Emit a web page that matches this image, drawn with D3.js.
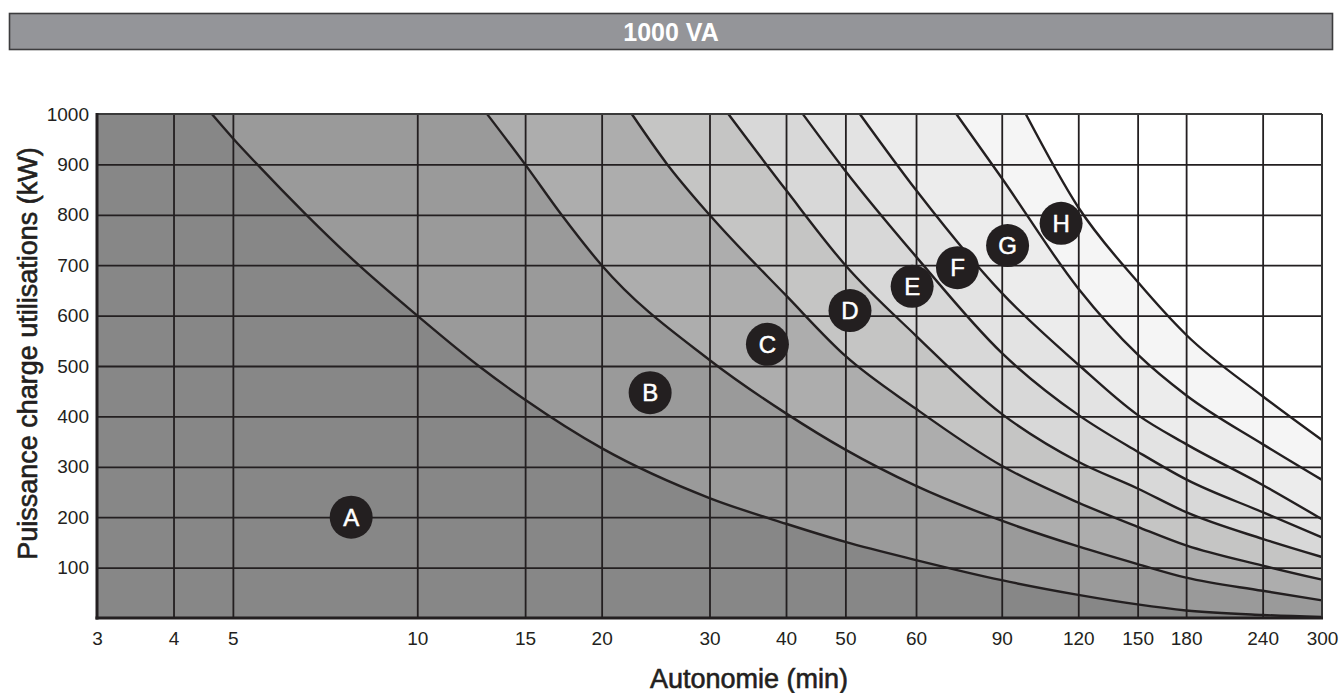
<!DOCTYPE html>
<html>
<head>
<meta charset="utf-8">
<script src="https://cdn.jsdelivr.net/npm/d3@7"></script>
<style>
  html, body { margin: 0; padding: 0; background: #ffffff; }
  svg { display: block; font-family: "Liberation Sans", Arial, Helvetica, sans-serif; }
</style>
</head>
<body>
<svg id="chart" width="1340" height="693"></svg>
<script>
// ---------- DATA ----------
const chartTitle = "1000 VA";
const xTitle = "Autonomie (min)";
const yTitle = "Puissance charge utilisations (kW)";

const xTicks = [3, 4, 5, 10, 15, 20, 30, 40, 50, 60, 90, 120, 150, 180, 240, 300];
const yTicks = [100, 200, 300, 400, 500, 600, 700, 800, 900, 1000];

// boundary curves (minutes, kW) — curve k separates zone k from zone k+1
const t1 = [4.62, 5, 5.48, 6.59, 8.03, 10, 12.6, 15, 20, 30, 40, 50, 60, 90, 120, 150, 180, 240, 300];
const p1 = [1000, 952, 900, 800, 700, 600, 500, 433, 337, 238, 187, 151, 115, 75, 46, 27, 15, 6, 2];
const t2 = [13.0, 15, 17.2, 20, 30, 40, 50, 60, 90, 120, 150, 180, 240, 300];
const p2 = [1000, 900, 800, 700, 512, 406, 334, 262, 193, 142, 107, 80, 54, 35];
const t3 = [22.4, 25.6, 30, 40, 50, 60, 90, 120, 150, 180, 240, 300];
const p3 = [1000, 900, 800, 640, 520, 415, 302, 229, 181, 144, 104, 76];
const t4 = [32.2, 40, 50, 60, 90, 120, 150, 180, 240, 300];
const p4 = [1000, 849, 700, 560, 405, 310, 257, 210, 157, 121];
const t5 = [42.6, 50, 60, 90, 120, 150, 180, 240, 300];
const p5 = [1000, 887, 717, 526, 403, 330, 275, 210, 160];
const t6 = [51.9, 60, 90, 120, 150, 180, 240, 300];
const p6 = [1000, 849, 645, 503, 403, 345, 264, 196];
const t7 = [72.6, 90, 120, 150, 180, 240, 300];
const p7 = [1000, 873, 654, 523, 442, 345, 274];
const t8 = [98.5, 120, 150, 180, 240, 300];
const p8 = [1000, 815, 667, 562, 440, 353];

const zoneNames = ["A", "B", "C", "D", "E", "F", "G", "H"];
const zoneColors = ["#878787", "#9a9a9a", "#adadad", "#c5c5c4", "#d8d8d8", "#e3e3e3", "#ececec", "#f5f5f5"];
const labelT = [7.8, 24, 37.3, 50.6, 59.4, 73, 92, 112.5];
const labelP = [200, 447, 543, 610, 658, 695, 739, 783];

const curveT = [t1, t2, t3, t4, t5, t6, t7, t8];
const curveP = [p1, p2, p3, p4, p5, p6, p7, p8];

// ---------- LAYOUT ----------
const svg = d3.select("#chart");
const M = { left: 97, top: 114 };
const W = 1225, H = 504;
const ink = "#231f20";

const lf = t => Math.log(t / 3) / Math.log(100);
const x = d3.scaleLog()
  .domain([3, 50, 60, 90, 300])
  .range([0, lf(50) * W, 0.6686 * W, lf(90) * W, W]);
const y = d3.scaleLinear().domain([0, 1000]).range([H, 0]);

// title bar
svg.append("rect")
  .attr("x", 9.5).attr("y", 13.5).attr("width", 1323).attr("height", 36)
  .attr("fill", "#949599").attr("stroke", "#3c3c3e").attr("stroke-width", 1.6);
svg.append("text")
  .attr("x", 671).attr("y", 41)
  .attr("text-anchor", "middle")
  .attr("font-size", 25).attr("font-weight", "bold")
  .attr("fill", "#ffffff")
  .text(chartTitle);

const g = svg.append("g").attr("transform", `translate(${M.left},${M.top})`);

// background (beyond last curve)
g.append("rect").attr("width", W).attr("height", H).attr("fill", "#ffffff");

// zone fills: draw from lightest (area left of curve 8) to darkest
const line = d3.line().x(d => x(d[0])).y(d => y(d[1])).curve(d3.curveMonotoneX);
for (let k = curveT.length - 1; k >= 0; k--) {
  const pts = curveT[k].map((t, i) => [t, curveP[k][i]]);
  const path = `M${x(3)},${y(1000)}L` + line(pts).slice(1) +
               `L${x(300)},${y(0)}L${x(3)},${y(0)}Z`;
  g.append("path").attr("d", path).attr("fill", zoneColors[k]).attr("stroke", "none");
}

// grid lines (via axes)
const gridX = g.append("g").attr("transform", `translate(0,${H})`)
  .call(d3.axisBottom(x).tickValues(xTicks.slice(1, -1)).tickSize(-H).tickFormat(""));
const gridY = g.append("g")
  .call(d3.axisLeft(y).tickValues(yTicks.slice(0, -1)).tickSize(-W).tickFormat(""));
[gridX, gridY].forEach(gr => {
  gr.select(".domain").remove();
  gr.selectAll("line").attr("stroke", ink).attr("stroke-width", 1.8);
});

// boundary curves
curveT.forEach((ts, k) => {
  const pts = ts.map((t, i) => [t, curveP[k][i]]);
  g.append("path").attr("d", line(pts))
    .attr("fill", "none").attr("stroke", ink).attr("stroke-width", 2.4);
});

// frame
g.append("line").attr("x1", 0).attr("x2", W).attr("y1", 0).attr("y2", 0)
  .attr("stroke", "#3a3a3a").attr("stroke-width", 2);
g.append("line").attr("x1", W).attr("x2", W).attr("y1", 0).attr("y2", H)
  .attr("stroke", "#333333").attr("stroke-width", 2);
g.append("line").attr("x1", 0).attr("x2", 0).attr("y1", -1).attr("y2", H + 1.5)
  .attr("stroke", ink).attr("stroke-width", 3);
g.append("line").attr("x1", -1.5).attr("x2", W + 1).attr("y1", H).attr("y2", H)
  .attr("stroke", ink).attr("stroke-width", 3);

// tick labels (axes)
const ax = g.append("g").attr("transform", `translate(0,${H})`)
  .call(d3.axisBottom(x).tickValues(xTicks).tickSize(0).tickPadding(13.5).tickFormat(d3.format("d")));
const ay = g.append("g")
  .call(d3.axisLeft(y).tickValues(yTicks).tickSize(0).tickPadding(8).tickFormat(d3.format("d")));
[ax, ay].forEach(a => {
  a.select(".domain").remove();
  a.selectAll("text").attr("font-size", 19).attr("fill", ink)
    .attr("font-family", "'Liberation Sans', Arial, sans-serif");
});

// zone markers
const marks = g.selectAll("g.mark").data(zoneNames).enter().append("g")
  .attr("transform", (d, i) => `translate(${x(labelT[i])},${y(labelP[i])})`);
marks.append("circle").attr("r", 21.5).attr("fill", ink);
marks.append("text").attr("text-anchor", "middle").attr("dy", "0.36em")
  .attr("font-size", 24).attr("fill", "#ffffff")
  .attr("stroke", "#ffffff").attr("stroke-width", 0.5)
  .text(d => d);

// axis titles
svg.append("text")
  .attr("x", 749).attr("y", 688)
  .attr("text-anchor", "middle").attr("font-size", 27).attr("fill", ink)
  .attr("stroke", ink).attr("stroke-width", 0.6)
  .text(xTitle);
svg.append("text")
  .attr("transform", "translate(37,353.5) rotate(-90)")
  .attr("text-anchor", "middle").attr("font-size", 27).attr("fill", ink)
  .attr("stroke", ink).attr("stroke-width", 0.6)
  .text(yTitle);
</script>
</body>
</html>
